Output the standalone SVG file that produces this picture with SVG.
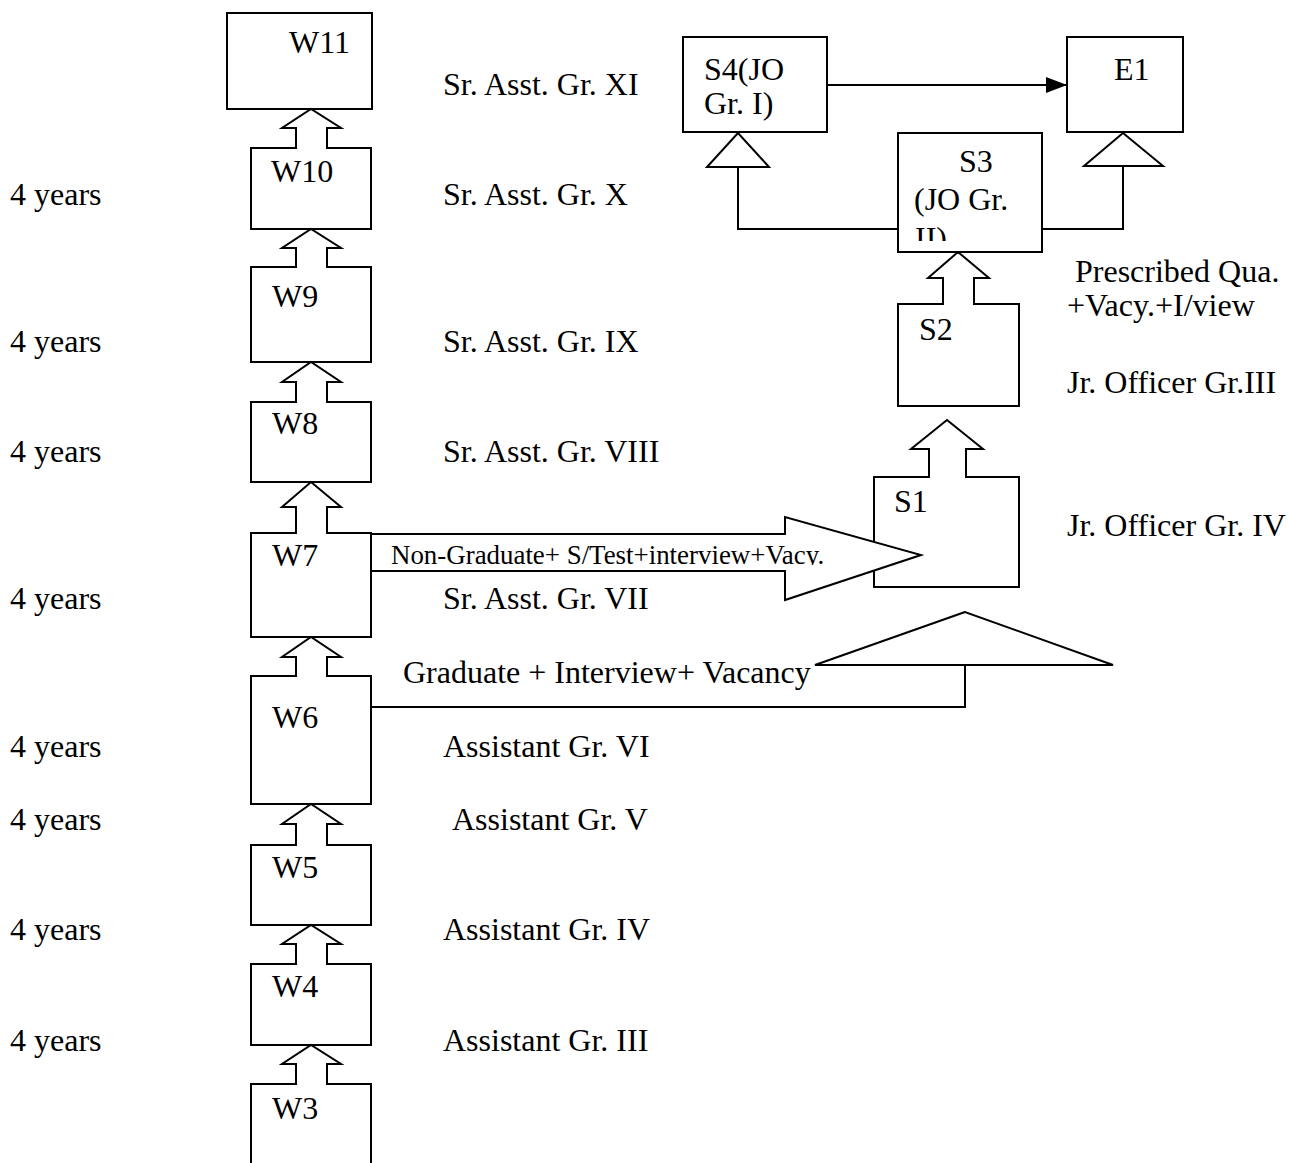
<svg xmlns="http://www.w3.org/2000/svg" width="1290" height="1163" viewBox="0 0 1290 1163">
<style>
 text { font-family: "Liberation Serif", "Times New Roman", serif; font-size: 32px; fill: #000; }
 .sm { font-size: 26.9px; }
 .box { fill: #fff; stroke: #000; stroke-width: 2; }
 .blk { fill: #fff; stroke: #000; stroke-width: 2; stroke-linejoin: miter; }
 .ln { fill: none; stroke: #000; stroke-width: 2; }
</style>
<defs>
 <marker id="ah" markerWidth="22" markerHeight="18" refX="21" refY="9" orient="auto" markerUnits="userSpaceOnUse"><path d="M0,1 L21,9 L0,17 Z" fill="#000"/></marker>
 <clipPath id="s3clip"><rect x="898" y="133" width="145" height="108"/></clipPath>
 <clipPath id="ngclip"><rect x="372" y="534" width="560" height="31"/></clipPath>
</defs>
<rect width="1290" height="1163" fill="#fff"/>

<g id="W11"><rect class="box" x="227" y="13" width="145" height="96"/><text x="289" y="53">W11</text></g>
<g id="W10"><rect class="box" x="251" y="148" width="120" height="81"/><text x="271" y="182">W10</text></g>
<g id="W9"><rect class="box" x="251" y="267" width="120" height="95"/><text x="272" y="307">W9</text></g>
<g id="W8"><rect class="box" x="251" y="402" width="120" height="80"/><text x="272" y="434">W8</text></g>
<g id="W7"><rect class="box" x="251" y="533" width="120" height="104"/><text x="272" y="566">W7</text></g>
<g id="W6"><rect class="box" x="251" y="676" width="120" height="128"/><text x="272" y="728">W6</text></g>
<g id="W5"><rect class="box" x="251" y="845" width="120" height="80"/><text x="272" y="878">W5</text></g>
<g id="W4"><rect class="box" x="251" y="964" width="120" height="81"/><text x="272" y="997">W4</text></g>
<g id="W3"><rect class="box" x="251" y="1084" width="120" height="100"/><text x="272" y="1119">W3</text></g>

<g id="S4"><rect class="box" x="683" y="37" width="144" height="95"/><text x="704" y="80">S4(JO</text><text x="704" y="114">Gr. I)</text></g>
<g id="E1"><rect class="box" x="1067" y="37" width="116" height="95"/><text x="1114" y="80">E1</text></g>
<g id="S3"><rect class="box" x="898" y="133" width="144" height="119"/><g clip-path="url(#s3clip)"><text x="959" y="172">S3</text><text x="914" y="210">(JO Gr.</text><text x="915" y="249">II)</text></g></g>
<g id="S2"><rect class="box" x="898" y="304" width="121" height="102"/><text x="919" y="340">S2</text></g>
<g id="S1"><rect class="box" x="874" y="477" width="145" height="110"/><text x="894" y="512">S1</text></g>

<g id="connectors">
 <path class="blk" d="M296,149 V128 H282 L311,109 L341,128 H327 V149"/>
 <path class="blk" d="M296,268 V248 H282 L311,229 L341,248 H327 V268"/>
 <path class="blk" d="M296,403 V382 H282 L311,362 L341,382 H327 V403"/>
 <path class="blk" d="M296,534 V507 H282 L311,482 L341,507 H327 V534"/>
 <path class="blk" d="M296,677 V657 H282 L311,637 L341,657 H327 V677"/>
 <path class="blk" d="M296,846 V824 H282 L311,804 L341,824 H327 V846"/>
 <path class="blk" d="M296,965 V944 H282 L311,925 L341,944 H327 V965"/>
 <path class="blk" d="M296,1085 V1064 H282 L311,1045 L341,1064 H327 V1085"/>
 <path class="blk" d="M943,305 V278 H928 L958,252 L989,278 H974 V305"/>
 <path class="blk" d="M929,478 V449 H911 L947,420 L983,449 H966 V478"/>
 <line class="ln" x1="827" y1="85" x2="1067" y2="85" marker-end="url(#ah)"/>
 <polygon class="blk" points="738,133 707,167 769,167"/>
 <path class="ln" d="M738,167 V229 H898"/>
 <polygon class="blk" points="1123,133 1084,166 1163,166"/>
 <path class="ln" d="M1123,166 V229 H1042"/>
 <path class="blk" d="M372,534 H785 V517 L921,555 L785,600 V571 H372"/>
 <polygon class="blk" points="965,612 815,665 1113,665"/>
 <path class="ln" d="M965,665 V707 H371"/>
</g>

<g id="labels">
 <text class="sm" x="391" y="564" clip-path="url(#ngclip)">Non-Graduate+ S/Test+interview+Vacy.</text>
 <text x="403" y="683">Graduate + Interview+ Vacancy</text>
 <text x="1075" y="282">Prescribed Qua.</text>
 <text x="1067" y="316">+Vacy.+I/view</text>
 <text x="1067" y="393">Jr. Officer Gr.III</text>
 <text x="1067" y="536">Jr. Officer Gr. IV</text>
 <text x="443" y="95">Sr. Asst. Gr. XI</text>
 <text x="443" y="205">Sr. Asst. Gr. X</text>
 <text x="443" y="352">Sr. Asst. Gr. IX</text>
 <text x="443" y="462">Sr. Asst. Gr. VIII</text>
 <text x="443" y="609">Sr. Asst. Gr. VII</text>
 <text x="443" y="757">Assistant Gr. VI</text>
 <text x="452" y="830">Assistant Gr. V</text>
 <text x="443" y="940">Assistant Gr. IV</text>
 <text x="443" y="1051">Assistant Gr. III</text>
 <text x="10" y="205">4 years</text>
 <text x="10" y="352">4 years</text>
 <text x="10" y="462">4 years</text>
 <text x="10" y="609">4 years</text>
 <text x="10" y="757">4 years</text>
 <text x="10" y="830">4 years</text>
 <text x="10" y="940">4 years</text>
 <text x="10" y="1051">4 years</text>
</g>
</svg>
